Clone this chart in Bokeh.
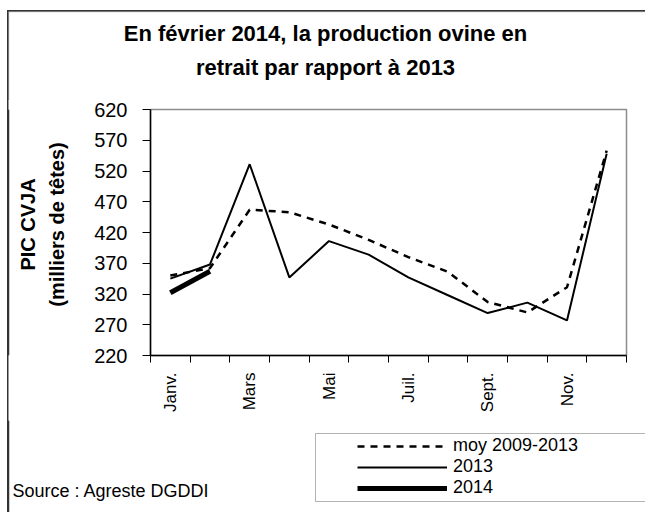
import math
from bokeh.plotting import figure
from bokeh.layouts import column, row
from bokeh.models import Range1d, FixedTicker, Label, Legend, LegendItem, BoxAnnotation, Span
from bokeh.embed import file_html
from bokeh.resources import INLINE

# ---------------- data ----------------
months = ["Janv.", "Févr.", "Mars", "Avr.", "Mai", "Juin",
          "Juil.", "Août", "Sept.", "Oct.", "Nov.", "Déc."]
shown_months = ["Janv.", "Mars", "Mai", "Juil.", "Sept.", "Nov."]
moy_2009_2013 = [350, 362, 457, 453, 433, 408, 380, 356, 307, 290, 331, 553]
prod_2013 = [345, 368, 531, 347, 406, 384, 347, 318, 289, 306, 277, 548]
prod_2014 = [322, 357]
y_ticks = [220, 270, 320, 370, 420, 470, 520, 570, 620]
series_labels = ["moy 2009-2013", "2013", "2014"]
title_lines = ["En février 2014, la production ovine en", "retrait par rapport à 2013"]
ylabel_lines = ["PIC CVJA", "(milliers de têtes)"]
source_text = "Source : Agreste DGDDI"

FONT = "Liberation Sans"
W = 645
TOP_H = 100        # title strip
MID_H = 320        # chart row
BOT_H = 92         # legend / source strip
YLAB_W = 80        # y-label strip
BORDER = "#333333"
FRAME_TOP, FRAME_BOTTOM, FRAME_LEFT, FRAME_RIGHT = 109, 355, 150, 626

line_styles = dict(moy=dict(line_dash="7 6", line_width=2.5),
                   y13=dict(line_dash="solid", line_width=2),
                   y14=dict(line_dash="solid", line_width=5))


def blank(width, height, y0, y1, top=0, bottom=0):
    """helper figure without axes, pixel-like coordinates (y downward)"""
    f = figure(width=width, height=height, output_backend="svg", toolbar_location=None,
               x_axis_type=None, y_axis_type=None,
               x_range=Range1d(0, width), y_range=Range1d(y1, y0),
               min_border=0, min_border_left=0, min_border_right=0,
               min_border_top=top, min_border_bottom=bottom)
    f.outline_line_color = None
    f.background_fill_alpha = 0
    f.border_fill_alpha = 0
    return f


# ---------------- title strip ----------------
p_top = blank(W, TOP_H, 0, TOP_H)
p_top.add_layout(BoxAnnotation(left=8, right=W + 20, top=11, bottom=TOP_H + 20,
                               fill_alpha=0, line_color=BORDER, line_width=1.5))
for i, t in enumerate(title_lines):
    p_top.add_layout(Label(x=325, y=33 + 34 * i, text=t, text_align="center",
                           text_baseline="alphabetic", text_font=FONT,
                           text_font_size="22px", text_font_style="bold",
                           text_color="black"))

# ---------------- y label strip (frame aligned with the chart frame) ----------------
p_ylab = blank(YLAB_W, MID_H, FRAME_TOP, FRAME_BOTTOM,
               top=FRAME_TOP - TOP_H, bottom=TOP_H + MID_H - FRAME_BOTTOM)
p_ylab.add_layout(Span(location=8, dimension="height", line_color=BORDER, line_width=1.5))
for i, t in enumerate(ylabel_lines):
    p_ylab.add_layout(Label(x=27 + 29 * i, y=224, text=t, angle=math.pi / 2,
                            text_align="center", text_baseline="middle",
                            text_font=FONT, text_font_size="20px",
                            text_font_style="bold", text_color="black"))

# ---------------- main chart ----------------
FL, FR = FRAME_LEFT - YLAB_W, W - FRAME_RIGHT
FT, FB = FRAME_TOP - TOP_H, TOP_H + MID_H - FRAME_BOTTOM
xs = [i + 0.5 for i in range(len(months))]

p = figure(width=W - YLAB_W, height=MID_H, output_backend="svg", toolbar_location=None,
           x_range=Range1d(0, 12), y_range=Range1d(220, 620),
           min_border_left=FL, min_border_right=FR,
           min_border_top=FT, min_border_bottom=FB)
p.background_fill_color = "white"
p.border_fill_alpha = 0
p.outline_line_color = "#8c8c8c"
p.outline_line_width = 1.5
p.xgrid.visible = False
p.ygrid.visible = False

p.xaxis.ticker = FixedTicker(ticks=[xs[months.index(m)] for m in shown_months],
                             minor_ticks=list(range(13)))
p.xaxis.major_label_overrides = {xs[months.index(m)]: m for m in shown_months}
p.xaxis.major_tick_line_color = None
p.xaxis.major_tick_out = 6
p.xaxis.major_tick_in = 0
p.xaxis.minor_tick_in = 0
p.xaxis.minor_tick_out = 7
p.xaxis.minor_tick_line_color = "black"
p.xaxis.major_label_orientation = math.pi / 2
p.xaxis.major_label_standoff = 10
p.xaxis.major_label_text_font = FONT
p.xaxis.major_label_text_font_size = "17px"
p.xaxis.major_label_text_color = "black"
p.xaxis.axis_line_color = "black"
p.xaxis.axis_line_width = 1.5

p.yaxis.ticker = FixedTicker(ticks=y_ticks)
p.yaxis.major_tick_in = 0
p.yaxis.major_tick_out = 8
p.yaxis.major_tick_line_color = "black"
p.yaxis.minor_tick_line_color = None
p.yaxis.major_label_standoff = 15
p.yaxis.major_label_text_font = FONT
p.yaxis.major_label_text_font_size = "20px"
p.yaxis.major_label_text_color = "black"
p.yaxis.axis_line_color = "black"
p.yaxis.axis_line_width = 1.5

p.line(xs, moy_2009_2013, line_color="black", **line_styles["moy"])
p.line(xs, prod_2013, line_color="black", **line_styles["y13"])
p.line(xs[:len(prod_2014)], prod_2014, line_color="black", **line_styles["y14"])

# ---------------- legend / source strip ----------------
y0b = TOP_H + MID_H
p_bot = blank(W, BOT_H, y0b, y0b + BOT_H)
p_bot.add_layout(Span(location=8, dimension="height", line_color=BORDER, line_width=1.5))
p_bot.add_layout(BoxAnnotation(left=315, right=W + 50, top=433, bottom=501,
                               fill_alpha=0, line_color="black", line_width=1))
leg_r = [p_bot.line(xs[:len(vals)], vals, line_color="black", visible=False, **line_styles[k])
         for k, vals in (("moy", moy_2009_2013), ("y13", prod_2013), ("y14", prod_2014))]
row_centers = [445.5, 466.5, 487.5]
for lab, r, c in zip(series_labels, leg_r, row_centers):
    p_bot.add_layout(Legend(items=[LegendItem(label=lab, renderers=[r])],
                            location=(357, (y0b + BOT_H) - (c + 10.5)), orientation="vertical",
                            glyph_width=90, glyph_height=20, label_height=20, label_standoff=6,
                            spacing=0, padding=0, margin=0,
                            border_line_color=None, background_fill_alpha=0,
                            inactive_fill_alpha=0,
                            label_text_font=FONT, label_text_font_size="18px",
                            label_text_color="black"))
p_bot.add_layout(Label(x=12, y=490, text=source_text, text_align="left",
                       text_baseline="alphabetic", text_font=FONT,
                       text_font_size="18px", text_color="black"))

# continuous outer border (left and top edges) drawn behind the transparent canvases
border_css = ("linear-gradient(#333333, #333333) 7.25px 10.25px / 1.5px 700px no-repeat, "
              "linear-gradient(#333333, #333333) 7.25px 10.25px / 800px 1.5px no-repeat")
layout = column(p_top, row(p_ylab, p), p_bot, styles={"background": border_css})
open("out.html", "w").write(file_html(layout, INLINE))
